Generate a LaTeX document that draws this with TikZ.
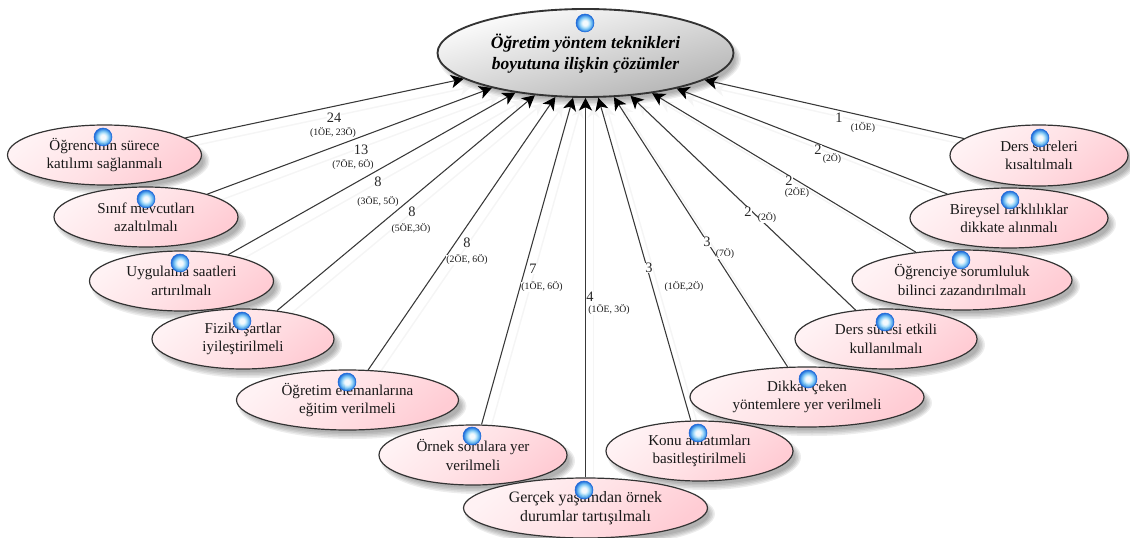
\documentclass[tikz,border=0pt]{standalone}
\usepackage{fontspec}
\setmainfont{Liberation Serif}
\usetikzlibrary{shapes.geometric,arrows.meta,backgrounds,shadings}
\definecolor{pinka}{HTML}{FFF2F4}
\definecolor{pinkb}{HTML}{FFE2E6}
\definecolor{pinkc}{HTML}{FFCCD4}
\definecolor{balla}{HTML}{F4FBFF}
\definecolor{ballb}{HTML}{A6DEFB}
\definecolor{ballc}{HTML}{56ADEF}
\definecolor{balld}{HTML}{1463D8}
\pgfdeclareradialshading{glassball}{\pgfpoint{0bp}{0bp}}{%
  color(0bp)=(balla);color(7bp)=(balla);color(13bp)=(ballb);color(19bp)=(ballc);
  color(25bp)=(balld);color(50bp)=(balld)}
\newcommand{\softshadow}[4]{%
  \foreach \k in {-3,-1.5,0,1.5,3}{%
    \fill[black,opacity=0.07] (#1+5,#2+6) ellipse ({(#3+\k)*0.75pt} and {(#4+\k)*0.75pt});}}
\tikzset{
  x=0.75pt,y=-0.75pt,
  ell/.style 2 args={ellipse,draw=black!80,line width=0.9pt,inner sep=0pt,align=center,
    minimum width=#1*1.5pt,minimum height=#2*1.5pt},
  sub/.style={top color=pinka,bottom color=pinkc,middle color=pinkb,shading angle=40,
    font=\fontsize{11.3pt}{13.8pt}\selectfont,text=black!90},
  big/.style={font=\fontsize{11.9pt}{13.8pt}\selectfont},
  top/.style={top color=white,bottom color=black!30,shading angle=15,line width=1.4pt,
    font=\fontsize{13.1pt}{16pt}\selectfont\bfseries\itshape},
  ballmark/.style={circle,minimum size=13.5pt,inner sep=0pt,draw=balld,line width=0.4pt,
    shading=glassball,opacity=0.95},
  link/.style={draw=black!78,line width=0.8pt,-{Stealth[length=9.5pt,width=10pt,inset=2.6pt,color=black]}},
  ghost/.style={draw=black!4,line width=1.1pt,-{Stealth[length=9pt,width=9pt]},
    transform canvas={shift={(8,8)}}},
  wt/.style={font=\fontsize{10.8pt}{10.8pt}\selectfont,inner sep=0pt,text=black!85,fill=white},
  det/.style={font=\fontsize{7.3pt}{7.3pt}\selectfont,inner sep=0pt,text=black!90,fill=white},
}
\begin{document}
\begin{tikzpicture}
\useasboundingbox (0,0) rectangle (1130,538);
\softshadow{585}{53}{148}{44}
\softshadow{104.5}{155}{97}{30}
\softshadow{146}{217}{92}{30}
\softshadow{181.5}{281}{92}{30}
\softshadow{243}{339}{91}{30}
\softshadow{347.5}{400}{111}{30}
\softshadow{473}{455}{94}{30}
\softshadow{699.5}{451}{93.5}{30}
\softshadow{807}{397}{117}{30}
\softshadow{886}{339}{91}{30}
\softshadow{962}{280}{110}{30}
\softshadow{1009}{218}{99}{30}
\softshadow{1039}{155.5}{89}{30.5}
\softshadow{585}{508}{122}{30}

\node[ell={148}{44},top] (main) at (585.5,53) {\rule{0pt}{12pt}Öğretim yöntem teknikleri\\boyutuna ilişkin çözümler};
\node[ell={97}{30},sub] (s1) at (104.5,155) {Öğrencinin sürece\\katılımı sağlanmalı};
\node[ell={92}{30},sub] (s2) at (146,217) {Sınıf mevcutları\\azaltılmalı};
\node[ell={92}{30},sub] (s3) at (181.5,281) {Uygulama saatleri\\artırılmalı};
\node[ell={91}{30},sub] (s4) at (243,339) {Fiziki şartlar\\iyileştirilmeli};
\node[ell={111}{30},sub] (s5) at (347.5,400) {Öğretim elemanlarına\\eğitim verilmeli};
\node[ell={94}{30},sub] (s6) at (473,455) {Örnek sorulara yer\\verilmeli};
\node[ell={93.5}{30},sub] (s8) at (699.5,451) {Konu anlatımları\\basitleştirilmeli};
\node[ell={117}{30},sub] (s9) at (807,397) {Dikkat çeken\\yöntemlere yer verilmeli};
\node[ell={91}{30},sub] (s10) at (886,339) {Ders süresi etkili\\kullanılmalı};
\node[ell={110}{30},sub] (s11) at (962,280) {Öğrenciye sorumluluk\\bilinci zazandırılmalı};
\node[ell={99}{30},sub] (s12) at (1009,218) {Bireysel farklılıklar\\dikkate alınmalı};
\node[ell={89}{30.5},sub] (s13) at (1039,155.5) {Ders süreleri\\kısaltılmalı};
\node[ell={122}{30},sub,big] (s7) at (585.5,508) {Gerçek yaşamdan örnek\\durumlar tartışılmalı};

\begin{scope}[on background layer]
\foreach \n in {s1,s2,s3,s4,s5,s6,s7,s8,s9,s10,s11,s12,s13}
  \draw[ghost] (\n) -- (main);
\end{scope}
\foreach \n in {s1,s2,s3,s4,s5,s6,s7,s8,s9,s10,s11,s12,s13}
  \draw[link] (\n) -- (main);

\node[ballmark] (b0) at (585,23) {};
\node[ballmark] (b1) at (103,137) {};
\node[ballmark] (b2) at (146,199) {};
\node[ballmark] (b3) at (180,263) {};
\node[ballmark] (b4) at (242,321) {};
\node[ballmark] (b5) at (347,382) {};
\node[ballmark] (b6) at (472,436) {};
\node[ballmark] (b7) at (584,490) {};
\node[ballmark] (b8) at (698,433) {};
\node[ballmark] (b9) at (808,379) {};
\node[ballmark] (b10) at (885,322) {};
\node[ballmark] (b11) at (961,260) {};
\node[ballmark] (b12) at (1010,200) {};
\node[ballmark] (b13) at (1040,138) {};

\node[wt] (w1) at (334,118) {24};  \node[det] (d1) at (333,133) {(1ÖE, 23Ö)};
\node[wt] (w2) at (361,150) {13};  \node[det] (d2) at (353,165) {(7ÖE, 6Ö)};
\node[wt] (w3) at (378,182) {8};   \node[det] (d3) at (378,202) {(3ÖE, 5Ö)};
\node[wt] (w4) at (412,212) {8};   \node[det] (d4) at (411,229) {(5ÖE,3Ö)};
\node[wt] (w5) at (467,243) {8};   \node[det] (d5) at (467,260) {(2ÖE, 6Ö)};
\node[wt] (w6) at (533,269) {7};   \node[det] (d6) at (542,287) {(1ÖE, 6Ö)};
\node[wt] (w7) at (590,297) {4};   \node[det] (d7) at (609,310) {(1ÖE, 3Ö)};
\node[wt] (w8) at (649,268) {3};   \node[det] (d8) at (684,287) {(1ÖE,2Ö)};
\node[wt] (w9) at (707,242) {3};   \node[det] (d9) at (725,254) {(7Ö)};
\node[wt] (w10) at (748,212) {2};  \node[det] (d10) at (767,218) {(2Ö)};
\node[wt] (w11) at (789,181) {2};  \node[det] (d11) at (797,193) {(2ÖE)};
\node[wt] (w12) at (818,150) {2};  \node[det] (d12) at (832,159) {(2Ö)};
\node[wt] (w13) at (839,118) {1};  \node[det] (d13) at (863,128) {(1ÖE)};
\end{tikzpicture}
\end{document}
